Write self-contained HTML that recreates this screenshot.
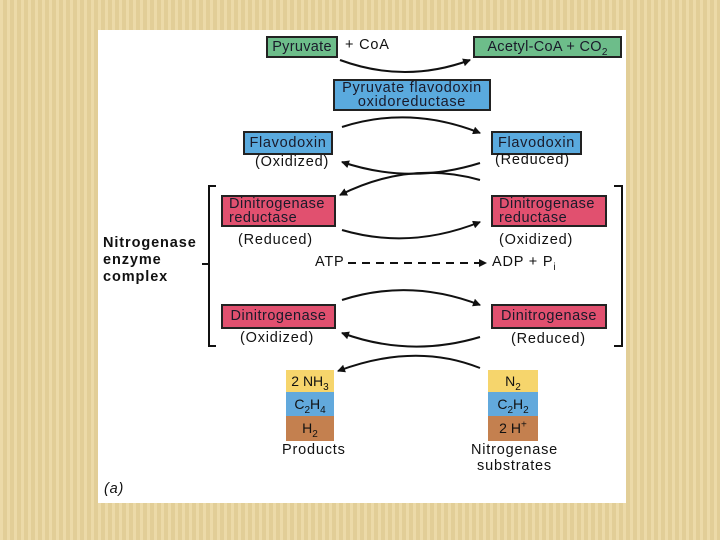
<!DOCTYPE html>
<html><head><style>
body{margin:0;width:720px;height:540px;overflow:hidden;background:#e9d59c;
background-image:repeating-linear-gradient(90deg,rgba(255,255,255,0.12) 0 3px,rgba(0,0,0,0.03) 3px 7px);font-family:"Liberation Sans",sans-serif;}
.panel{position:absolute;left:98px;top:30px;width:528px;height:473px;background:#fff;}
sub,sup{line-height:0;font-size:10px}
.b{position:absolute;box-sizing:border-box;border:2px solid #222;color:#1a1a2a;font-size:14.5px;letter-spacing:0.7px;text-align:center;line-height:16px;white-space:nowrap;}
.g{background:#6dbd8a}.bl{background:#5aaade}.r{background:#e1506f}
.t{position:absolute;font-size:14.5px;letter-spacing:0.8px;color:#111;white-space:nowrap;}
.s{position:absolute;width:48px;height:24px;font-size:14px;text-align:center;line-height:24px;color:#111;white-space:nowrap}
</style></head><body>
<div class="panel"></div>
<div class="b g" style="left:266px;top:36px;width:72px;height:22px;line-height:18px;letter-spacing:0.3px">Pyruvate</div>
<div class="t" style="left:345px;top:37px">+ CoA</div>
<div class="b g" style="left:473px;top:36px;width:149px;height:22px;line-height:18px;letter-spacing:0.3px">Acetyl-CoA + CO<sub>2</sub></div>
<div class="b bl" style="left:333px;top:79px;width:158px;height:32px;line-height:14px;padding-top:0px">Pyruvate flavodoxin<br>oxidoreductase</div>
<div class="b bl" style="left:243px;top:131px;width:90px;height:24px;line-height:20px">Flavodoxin</div>
<div class="t" style="left:255px;top:154px">(Oxidized)</div>
<div class="b bl" style="left:491px;top:131px;width:91px;height:24px;line-height:20px">Flavodoxin</div>
<div class="t" style="left:495px;top:152px">(Reduced)</div>
<div class="b r" style="left:221px;top:195px;width:115px;height:32px;text-align:left;padding-left:6px;line-height:14px;letter-spacing:0.5px">Dinitrogenase<br>reductase</div>
<div class="b r" style="left:491px;top:195px;width:116px;height:32px;text-align:left;padding-left:6px;line-height:14px;letter-spacing:0.5px">Dinitrogenase<br>reductase</div>
<div class="t" style="left:238px;top:232px">(Reduced)</div>
<div class="t" style="left:499px;top:232px">(Oxidized)</div>
<div class="t" style="left:315px;top:254px">ATP</div>
<div class="t" style="left:492px;top:254px">ADP + P<sub>i</sub></div>
<div class="t" style="left:103px;top:235px;font-weight:bold;line-height:17px;letter-spacing:0.9px">Nitrogenase<br>enzyme<br>complex</div>
<div class="b r" style="left:221px;top:304px;width:115px;height:25px;line-height:21px;letter-spacing:0.5px">Dinitrogenase</div>
<div class="b r" style="left:491px;top:304px;width:116px;height:25px;line-height:21px;letter-spacing:0.5px">Dinitrogenase</div>
<div class="t" style="left:240px;top:330px">(Oxidized)</div>
<div class="t" style="left:511px;top:331px">(Reduced)</div>
<div class="s" style="left:286px;top:370px;background:#f6d56c;height:22px;line-height:22px">2 NH<sub>3</sub></div>
<div class="s" style="left:286px;top:392px;background:#62a9dc">C<sub>2</sub>H<sub>4</sub></div>
<div class="s" style="left:286px;top:416px;background:#c4804f;height:25px">H<sub>2</sub></div>
<div class="s" style="left:488px;top:370px;width:50px;background:#f6d56c;height:22px;line-height:22px">N<sub>2</sub></div>
<div class="s" style="left:488px;top:392px;width:50px;background:#62a9dc">C<sub>2</sub>H<sub>2</sub></div>
<div class="s" style="left:488px;top:416px;width:50px;background:#c4804f;height:25px">2 H<sup>+</sup></div>
<div class="t" style="left:282px;top:442px">Products</div>
<div class="t" style="left:471px;top:442px;text-align:center;line-height:16px">Nitrogenase<br>substrates</div>
<div class="t" style="left:104px;top:481px;font-style:italic">(a)</div>
<svg width="720" height="540" style="position:absolute;left:0;top:0">
<defs><marker id="a" markerWidth="8" markerHeight="8" refX="7" refY="4" orient="auto" markerUnits="userSpaceOnUse"><path d="M0,0 L8,4 L0,8 z" fill="#111"/></marker></defs>
<g fill="none" stroke="#111" stroke-width="2">
<path d="M340,60 Q405,84 470,60" marker-end="url(#a)"/>
<path d="M342,127 Q410,105 480,133" marker-end="url(#a)"/>
<path d="M480,163 Q410,185 342,162" marker-end="url(#a)"/>
<path d="M480,180 Q410,160 340,195" marker-end="url(#a)"/>
<path d="M342,230 Q410,250 480,222" marker-end="url(#a)"/>
<path d="M342,300 Q410,278 480,305" marker-end="url(#a)"/>
<path d="M480,337 Q410,358 342,333" marker-end="url(#a)"/>
<path d="M480,368 Q415,342 338,371" marker-end="url(#a)"/>
<path d="M348,263 L486,263" stroke-dasharray="8,6" marker-end="url(#a)"/>
<path d="M216,186 L209,186 L209,346 L216,346"/>
<path d="M614,186 L622,186 L622,346 L614,346"/>
<path d="M202,264 L209,264"/>
</g></svg>
</body></html>
